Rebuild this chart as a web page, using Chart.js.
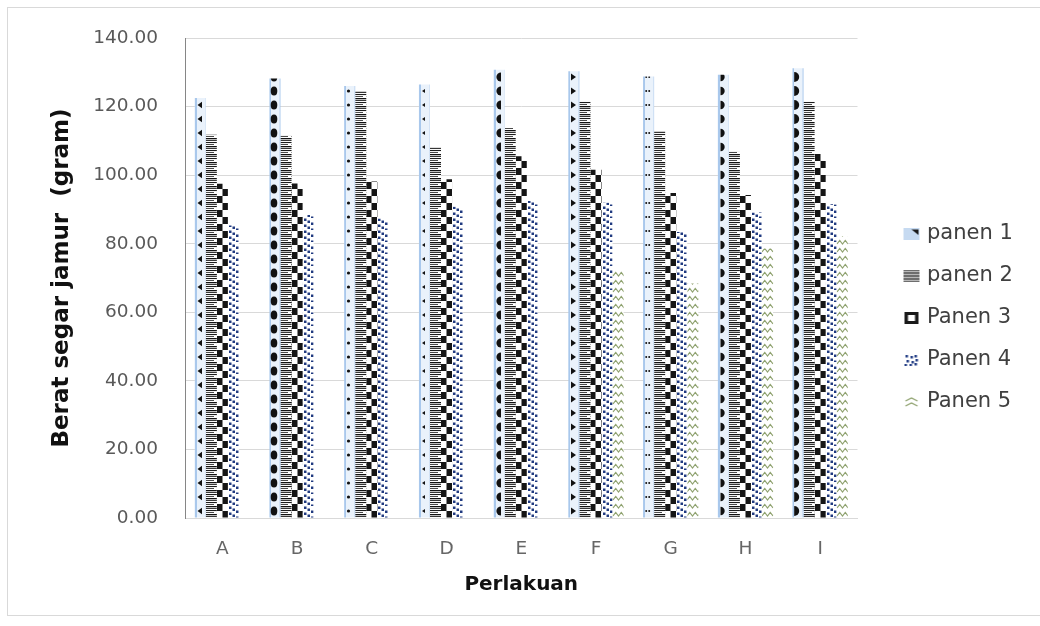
<!DOCTYPE html>
<html>
<head>
<meta charset="utf-8">
<title>Berat segar jamur per perlakuan</title>
<script src="https://cdn.jsdelivr.net/npm/chart.js@4.4.1/dist/chart.umd.min.js"></script>
<style>
  html, body { margin: 0; padding: 0; background: #ffffff; overflow: hidden; }
  #wrap { position: relative; width: 1040px; height: 626px; }
  #frame { position: absolute; left: 7px; top: 7px; width: 1040px; height: 609px; border: 1px solid #d9d9d9; box-sizing: border-box; }
  #chart { position: absolute; left: 0; top: 0; }
</style>
</head>
<body>
<div id="wrap">
  <div id="frame"></div>
  <canvas id="chart" width="1040" height="626"></canvas>
</div>
<script>
// Perlakuan (treatments) and fresh mushroom weight (gram) per harvest
const categories = ['A', 'B', 'C', 'D', 'E', 'F', 'G', 'H', 'I'];
const panen1 = [122.5, 128.2, 126.0, 126.5, 130.8, 130.3, 128.8, 129.3, 131.2];
const panen2 = [111.8, 111.7, 124.5, 108.1, 113.8, 121.6, 112.8, 107.0, 121.6];
const panen3 = [97.5, 97.6, 98.2, 98.8, 105.5, 101.6, 94.8, 94.2, 106.2];
const panen4 = [85.3, 88.4, 87.4, 90.8, 92.5, 92.0, 83.4, 89.1, 91.5];
const panen5 = [0, 0, 0, 0, 0, 72.2, 68.4, 78.6, 82.2];
const seriesNames = ['panen 1', 'panen 2', 'Panen 3', 'Panen 4', 'Panen 5'];
const yTicks = [0, 20, 40, 60, 80, 100, 120, 140];

// glyph used in the panen 1 fill, one per treatment
const panen1Glyphs = ['triL', 'oval', 'dot', 'triLs', 'semiL', 'triR', 'dots2', 'semiR', 'semiR2'];

const TICK_FONT = { family: 'DejaVu Sans', size: 18.5 };
const LEGEND_FONT = { family: 'DejaVu Sans', size: 21 };

function tile(w, h, paint) {
  const c = document.createElement('canvas');
  c.width = w; c.height = h;
  paint(c.getContext('2d'), w, h);
  return c;
}

function glyphTile(kind) {
  return tile(11, 14, (g) => {
    g.fillStyle = '#eaf2fb'; g.fillRect(0, 0, 11, 14);
    g.fillStyle = '#a9c8ec'; g.fillRect(0, 0, 2, 14);
    g.fillStyle = '#d0e1f5'; g.fillRect(10, 0, 1, 14);
    g.fillStyle = '#111111';
    g.beginPath();
    switch (kind) {
      case 'triL': g.moveTo(2.5, 7); g.lineTo(7, 3.8); g.lineTo(7, 10.2); break;
      case 'oval': g.ellipse(5, 7, 3.3, 4.6, 0, 0, Math.PI * 2); break;
      case 'dot': g.arc(4.5, 7, 1.6, 0, Math.PI * 2); break;
      case 'triLs': g.moveTo(3, 7); g.lineTo(6, 5); g.lineTo(6, 9); break;
      case 'semiL': g.arc(7, 7, 4.6, Math.PI / 2, Math.PI * 1.5); break;
      case 'triR': g.moveTo(3, 3.5); g.lineTo(3, 10.5); g.lineTo(8, 7); break;
      case 'dots2': g.arc(3.2, 7, 1, 0, Math.PI * 2); g.moveTo(7, 7); g.arc(6.2, 7, 1, 0, Math.PI * 2); break;
      case 'semiR': g.arc(2.5, 7, 4.2, -Math.PI / 2, Math.PI / 2); break;
      case 'semiR2': g.arc(2.2, 7, 5, -Math.PI / 2, Math.PI / 2); break;
    }
    g.closePath();
    g.fill();
  });
}

function stripeTile() {
  const rows = ['#1c1c1c', '#f2f2f2', '#4a4a4a', '#ffffff', '#111111', '#bdbdbd', '#363636', '#fafafa'];
  return tile(11, rows.length, (g) => {
    rows.forEach((c, i) => { g.fillStyle = c; g.fillRect(0, i, 11, 1); });
    g.fillStyle = '#ffffff'; g.fillRect(8, 2, 3, 1);
  });
}

function checkerTile() {
  return tile(11, 14, (g) => {
    g.fillStyle = '#ffffff'; g.fillRect(0, 0, 11, 14);
    g.fillStyle = '#151515';
    g.fillRect(0, 0, 5.5, 7);
    g.fillRect(5.5, 7, 5.5, 7);
  });
}

function dotTile() {
  return tile(11, 12, (g) => {
    g.fillStyle = '#ffffff'; g.fillRect(0, 0, 11, 12);
    g.fillStyle = '#203a80';
    [[1, 0.5], [4.5, 2.5], [8, 4.5], [1, 6.5], [4.5, 8.5], [8, 10.5]].forEach(([x, y]) => g.fillRect(x, y, 2.5, 2.5));
  });
}

function waveTile() {
  return tile(11, 8, (g) => {
    g.fillStyle = '#ffffff'; g.fillRect(0, 0, 11, 8);
    g.strokeStyle = '#8fa26f'; g.lineWidth = 1.2;
    g.beginPath();
    g.moveTo(0, 6); g.lineTo(2.75, 2.5); g.lineTo(5.5, 6); g.lineTo(8.25, 2.5); g.lineTo(11, 6);
    g.stroke();
  });
}

// one pattern object per bar so each can be anchored to its own bar
const scratch = document.createElement('canvas').getContext('2d');
function patternsFor(values, makeTile) {
  return values.map((v, i) => scratch.createPattern(makeTile(i), 'repeat'));
}

const fills = [
  patternsFor(panen1, (i) => glyphTile(panen1Glyphs[i])),
  patternsFor(panen2, () => stripeTile()),
  patternsFor(panen3, () => checkerTile()),
  patternsFor(panen4, () => dotTile()),
  patternsFor(panen5, () => waveTile())
];

// legend swatches: 16x12 box drawn at the right end of a 46px wide image
function swatch(paint) {
  return tile(46, 14, (g) => {
    g.save();
    g.beginPath(); g.rect(29, 1, 16, 12); g.clip();
    paint(g, 29, 1);
    g.restore();
  });
}
const legendIcons = [
  swatch((g, x, y) => {
    g.fillStyle = '#c6daf1'; g.fillRect(x, y, 16, 12);
    g.fillStyle = '#1a1a1a'; g.beginPath();
    g.moveTo(x + 8, y + 1.5); g.lineTo(x + 15, y + 1.5); g.lineTo(x + 15, y + 7); g.closePath(); g.fill();
  }),
  swatch((g, x, y) => {
    g.fillStyle = '#6e6e6e'; g.fillRect(x, y, 16, 12);
    g.fillStyle = '#b8b8b8';
    for (let r = 1; r < 12; r += 3) g.fillRect(x, y + r, 16, 1);
  }),
  swatch((g, x, y) => {
    g.fillStyle = '#1a1a1a'; g.fillRect(x + 1, y, 14, 12);
    g.fillStyle = '#ffffff'; g.fillRect(x + 4.5, y + 3, 7, 6);
  }),
  swatch((g, x, y) => {
    g.fillStyle = '#ffffff'; g.fillRect(x, y, 16, 12);
    g.fillStyle = '#243f86';
    [[2, 1], [7, 2], [11, 1], [3, 6], [8, 7], [12, 5], [1, 10], [6, 10], [11, 9]].forEach(([a, b]) => g.fillRect(x + a, y + b, 2.5, 2.5));
  }),
  swatch((g, x, y) => {
    g.fillStyle = '#ffffff'; g.fillRect(x, y, 16, 12);
    g.strokeStyle = '#8fa26f'; g.lineWidth = 1.2;
    g.beginPath();
    g.moveTo(x + 2, y + 5); g.lineTo(x + 8, y + 2); g.lineTo(x + 14, y + 5);
    g.moveTo(x + 2, y + 10); g.lineTo(x + 8, y + 7); g.lineTo(x + 14, y + 10);
    g.stroke();
  })
];

// keep the plot's right edge where the legend column begins
scratch.font = LEGEND_FONT.size + 'px "' + LEGEND_FONT.family + '"';
const widestLabel = Math.max(...seriesNames.map((n) => scratch.measureText(n).width));
const LEGEND_PAD = 21, LEGEND_BOX = 38;
const plotRight = 857;
const legendWidth = LEGEND_PAD * 2 + LEGEND_BOX + widestLabel;
const rightPad = Math.max(0, 1040 - plotRight - legendWidth);

const anchorPatterns = {
  id: 'anchorPatterns',
  beforeDatasetsDraw(chart) {
    chart.data.datasets.forEach((ds, di) => {
      chart.getDatasetMeta(di).data.forEach((bar, i) => {
        const p = ds.backgroundColor[i];
        if (p && p.setTransform) {
          const left = Math.round(bar.x - bar.width / 2);
          p.setTransform(new DOMMatrix().translate(left, Math.round(bar.base)));
        }
      });
    });
  }
};

const seriesValues = [panen1, panen2, panen3, panen4, panen5];

new Chart(document.getElementById('chart'), {
  type: 'bar',
  data: {
    labels: categories,
    datasets: seriesValues.map((vals, i) => ({
      label: seriesNames[i],
      data: vals,
      backgroundColor: fills[i],
      borderWidth: 0,
      categoryPercentage: 0.74,
      barPercentage: 1.0
    }))
  },
  options: {
    responsive: false,
    animation: false,
    events: [],
    layout: { padding: { left: 0, top: 34, right: rightPad, bottom: 24 } },
    scales: {
      x: {
        grid: { display: false, drawTicks: false },
        border: { display: true, color: '#d9d9d9', width: 1 },
        ticks: { font: TICK_FONT, color: '#666666', padding: 20 },
        title: {
          display: true, text: 'Perlakuan', color: '#111111',
          font: { family: 'DejaVu Sans', size: 20, weight: 'bold' },
          padding: { top: 0, bottom: 5 }
        },
        afterFit(scale) { scale.height = 84; }
      },
      y: {
        min: 0, max: 140,
        afterBuildTicks(scale) { scale.ticks = yTicks.map((v) => ({ value: v })); },
        ticks: { font: TICK_FONT, color: '#595959', padding: 27, callback: (v) => Number(v).toFixed(2) },
        grid: { color: '#d9d9d9', drawTicks: false, lineWidth: 1 },
        border: { display: true, color: '#868686', width: 1 },
        title: {
          display: true, text: 'Berat segar jamur  (gram)', color: '#111111',
          font: { family: 'DejaVu Sans', size: 23, weight: 'bold' },
          padding: { top: 48, bottom: 0 }
        },
        afterFit(scale) { scale.width = 185; }
      }
    },
    plugins: {
      tooltip: { enabled: false },
      legend: {
        position: 'right',
        align: 'center',
        labels: {
          usePointStyle: true,
          pointStyleWidth: LEGEND_BOX,
          padding: LEGEND_PAD,
          font: LEGEND_FONT,
          color: '#404040',
          generateLabels: (chart) => chart.data.datasets.map((ds, i) => ({
            text: ds.label,
            pointStyle: legendIcons[i],
            fillStyle: 'transparent',
            strokeStyle: 'transparent',
            lineWidth: 0,
            fontColor: '#404040',
            hidden: false,
            datasetIndex: i
          }))
        }
      }
    }
  },
  plugins: [anchorPatterns]
});
</script>
</body>
</html>
